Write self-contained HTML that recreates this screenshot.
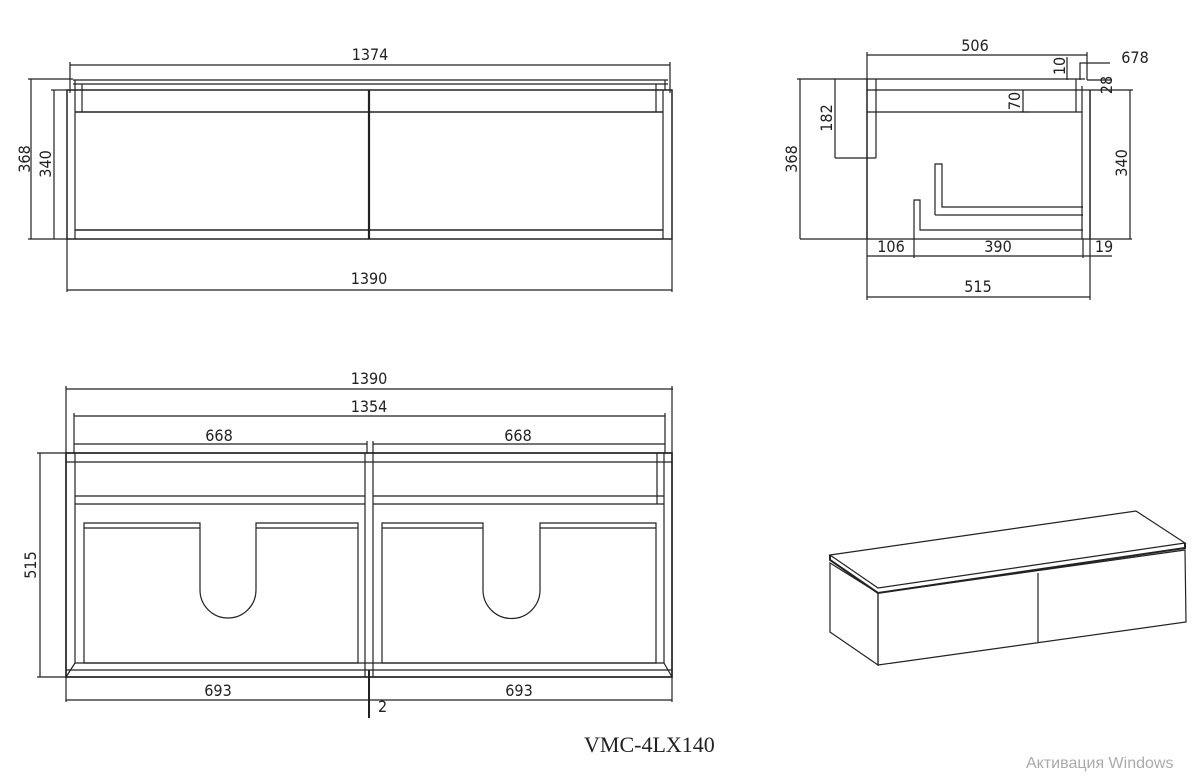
<!DOCTYPE html>
<html><head><meta charset="utf-8"><style>
html,body{margin:0;padding:0;background:#fff;width:1200px;height:779px;overflow:hidden}
svg{display:block}
text{font-family:"DejaVu Sans Condensed","Liberation Sans Narrow","Liberation Sans",sans-serif;fill:#222;font-size:16px}
</style></head><body>
<svg width="1200" height="779" viewBox="0 0 1200 779" xmlns="http://www.w3.org/2000/svg">
<g stroke="#222" fill="none" stroke-width="1.2">
<!-- FRONT VIEW -->
<line x1="70" y1="65" x2="670" y2="65"/>
<line x1="70" y1="62" x2="70" y2="93"/><line x1="670" y1="62" x2="670" y2="93"/>
<line x1="73" y1="80" x2="668" y2="80"/><line x1="73" y1="84" x2="668" y2="84"/>
<line x1="75" y1="80" x2="75" y2="90"/><line x1="665" y1="80" x2="665" y2="90"/>
<rect x="67" y="90" width="605" height="149" stroke-width="1.5"/>
<line x1="75" y1="90" x2="75" y2="239"/><line x1="663" y1="90" x2="663" y2="239"/>
<line x1="82" y1="84" x2="82" y2="112"/><line x1="656" y1="84" x2="656" y2="112"/>
<line x1="75" y1="112" x2="663" y2="112" stroke-width="1.5"/>
<line x1="75" y1="230" x2="663" y2="230" stroke-width="1.5"/>
<line x1="369" y1="90" x2="369" y2="239" stroke-width="2.2"/>
<line x1="31" y1="79" x2="31" y2="239"/><line x1="28" y1="79" x2="73" y2="79"/><line x1="28" y1="239" x2="67" y2="239"/>
<line x1="54" y1="90" x2="54" y2="239"/><line x1="51" y1="90" x2="67" y2="90"/>
<line x1="67" y1="239" x2="67" y2="292"/><line x1="672" y1="239" x2="672" y2="292"/>
<line x1="67" y1="290" x2="672" y2="290"/>
<!-- SIDE VIEW -->
<line x1="867" y1="55" x2="1087" y2="55"/>
<line x1="867" y1="52" x2="867" y2="80"/><line x1="1087" y1="52" x2="1087" y2="80"/>
<line x1="867" y1="79" x2="1085" y2="79"/><line x1="867" y1="90" x2="1090" y2="90"/>
<line x1="867" y1="112" x2="1082" y2="112"/>
<line x1="867" y1="79" x2="867" y2="239" stroke-width="1.5"/>
<line x1="876" y1="79" x2="876" y2="158"/><line x1="835" y1="158" x2="876" y2="158"/>
<line x1="1076" y1="79" x2="1076" y2="112"/><line x1="1082" y1="86" x2="1082" y2="239"/>
<line x1="1090" y1="90" x2="1090" y2="239" stroke-width="1.5"/>
<polyline points="935,215 935,164 942,164 942,207 1083,207"/>
<line x1="942" y1="215" x2="1083" y2="215"/><line x1="935" y1="215" x2="942" y2="215"/>
<polyline points="914,239 914,200 920,200 920,230 1083,230"/>
<line x1="800" y1="239" x2="1132" y2="239"/>
<line x1="800" y1="79" x2="800" y2="239"/><line x1="797" y1="79" x2="867" y2="79"/>
<line x1="835" y1="79" x2="835" y2="158"/>
<line x1="1023" y1="90" x2="1023" y2="112"/><line x1="1020" y1="112" x2="1030" y2="112"/>
<line x1="1130" y1="90" x2="1130" y2="239"/><line x1="1090" y1="90" x2="1133" y2="90"/>
<line x1="1067" y1="57" x2="1067" y2="80"/>
<polyline points="1080,80 1080,63 1110,63"/>
<line x1="1087" y1="80" x2="1112" y2="80"/>
<line x1="867" y1="239" x2="867" y2="300"/><line x1="914" y1="239" x2="914" y2="258"/>
<line x1="1083" y1="239" x2="1083" y2="258"/><line x1="1090" y1="239" x2="1090" y2="300"/>
<line x1="867" y1="256" x2="1112" y2="256"/>
<line x1="867" y1="297" x2="1090" y2="297"/>
<!-- PLAN VIEW -->
<line x1="66" y1="389" x2="673" y2="389"/><line x1="66" y1="386" x2="66" y2="453"/><line x1="672" y1="386" x2="672" y2="453"/>
<line x1="74" y1="416" x2="665" y2="416"/><line x1="74" y1="413" x2="74" y2="453"/><line x1="665" y1="413" x2="665" y2="453"/>
<line x1="74" y1="444" x2="367" y2="444"/><line x1="373" y1="444" x2="665" y2="444"/>
<line x1="367" y1="441" x2="367" y2="453"/><line x1="373" y1="441" x2="373" y2="453"/>
<rect x="66" y="453" width="606" height="224" stroke-width="1.7"/>
<line x1="66" y1="462" x2="672" y2="462"/>
<line x1="75" y1="462" x2="75" y2="663"/><line x1="664" y1="453" x2="664" y2="663"/>
<line x1="657" y1="453" x2="657" y2="504"/><line x1="75" y1="453" x2="75" y2="462"/>
<line x1="75" y1="496" x2="365" y2="496"/><line x1="75" y1="504" x2="365" y2="504"/>
<line x1="373" y1="496" x2="664" y2="496"/><line x1="373" y1="504" x2="664" y2="504"/>
<line x1="365" y1="453" x2="365" y2="677"/><line x1="373" y1="453" x2="373" y2="677"/>
<path d="M84,663 L84,523 L200,523 L200,590 A28,28 0 0 0 256,590 L256,523 L358,523 L358,663 Z"/>
<line x1="84" y1="528" x2="200" y2="528"/><line x1="256" y1="528" x2="358" y2="528"/>
<path d="M382,663 L382,523 L483,523 L483,590 A28.5,28.5 0 0 0 540,590 L540,523 L656,523 L656,663 Z"/>
<line x1="382" y1="528" x2="483" y2="528"/><line x1="540" y1="528" x2="656" y2="528"/>
<line x1="75" y1="663" x2="664" y2="663"/>
<line x1="75" y1="663" x2="66" y2="677"/><line x1="664" y1="663" x2="672" y2="677"/>
<line x1="66" y1="670" x2="672" y2="670"/>
<line x1="40" y1="453" x2="40" y2="677"/><line x1="37" y1="453" x2="66" y2="453"/><line x1="37" y1="677" x2="66" y2="677"/>
<line x1="66" y1="677" x2="66" y2="702"/><line x1="672" y1="677" x2="672" y2="702"/>
<line x1="66" y1="700" x2="672" y2="700"/>
<line x1="369" y1="670" x2="369" y2="718" stroke-width="2"/>
<!-- ISO VIEW -->
<polygon points="830,555 1136,511 1185,543 878,588"/>
<polyline points="830,555 830,560 878,593 1185,548 1185,543" stroke-width="2"/>
<polygon points="830,563 878,593 878,665 830,632"/>
<polygon points="878,593 1185,550 1186,622 878,665"/>
<line x1="1038" y1="573" x2="1038" y2="643"/>
</g>
<g>
<text x="370" y="60" text-anchor="middle">1374</text>
<text x="369" y="284" text-anchor="middle">1390</text>
<text transform="translate(30,159) rotate(-90)" text-anchor="middle">368</text>
<text transform="translate(51,164) rotate(-90)" text-anchor="middle">340</text>
<text x="975" y="51" text-anchor="middle">506</text>
<text x="1135" y="63" text-anchor="middle" font-size="17">678</text>
<text transform="translate(1065,66) rotate(-90)" text-anchor="middle" font-size="14">10</text>
<text transform="translate(1112,85) rotate(-90)" text-anchor="middle" font-size="14">28</text>
<text transform="translate(1020,101) rotate(-90)" text-anchor="middle" font-size="14">70</text>
<text transform="translate(832,118) rotate(-90)" text-anchor="middle">182</text>
<text transform="translate(797,159) rotate(-90)" text-anchor="middle">368</text>
<text transform="translate(1127,163) rotate(-90)" text-anchor="middle">340</text>
<text x="891" y="252" text-anchor="middle">106</text>
<text x="998" y="252" text-anchor="middle">390</text>
<text x="1104" y="252" text-anchor="middle">19</text>
<text x="978" y="292" text-anchor="middle">515</text>
<text x="369" y="384" text-anchor="middle">1390</text>
<text x="369" y="412" text-anchor="middle">1354</text>
<text x="219" y="441" text-anchor="middle">668</text>
<text x="518" y="441" text-anchor="middle">668</text>
<text transform="translate(36,565) rotate(-90)" text-anchor="middle">515</text>
<text x="218" y="696" text-anchor="middle">693</text>
<text x="519" y="696" text-anchor="middle">693</text>
<text x="378" y="712">2</text>
<text x="584" y="752" style="font-family:'Liberation Serif',serif;font-size:22px">VMC-4LX140</text>
<text x="1026" y="768" style="fill:#aaa;font-family:'Liberation Sans',sans-serif;font-size:16px">Активация Windows</text>
</g>
</svg>
</body></html>
